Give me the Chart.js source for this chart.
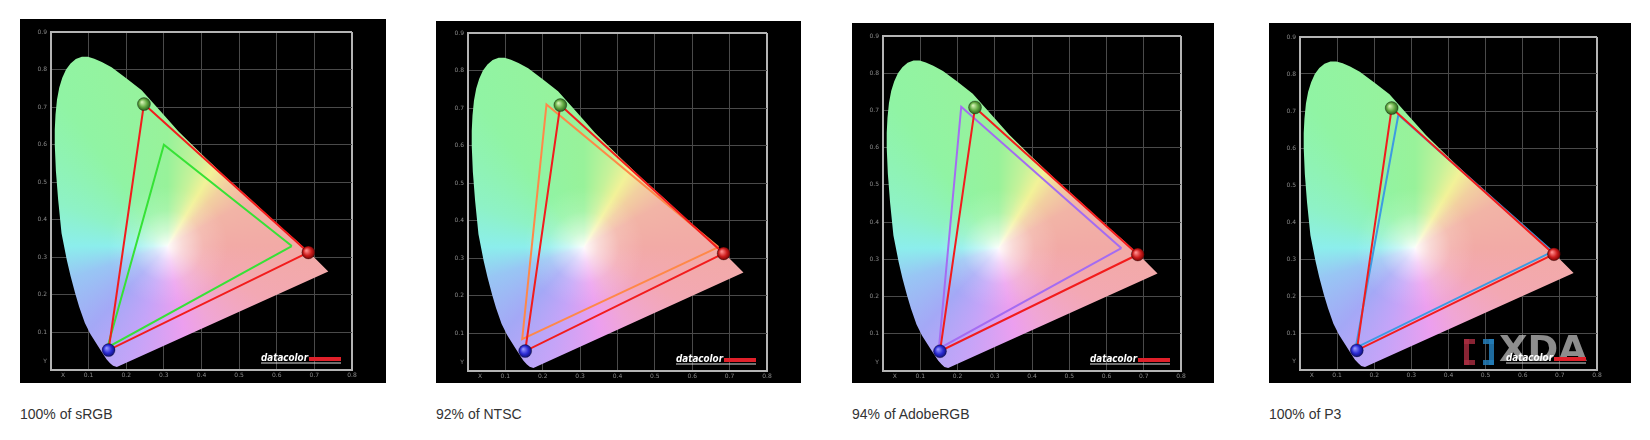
<!DOCTYPE html>
<html>
<head>
<meta charset="utf-8">
<script src="https://cdn.jsdelivr.net/npm/chart.js@4.4.1/dist/chart.umd.min.js"></script>
<style>
  body { margin: 0; background: #fff; width: 1650px; height: 440px; overflow: hidden; }
  .panel { position: absolute; background: #000; }
  .caption { position: absolute; font-family: "Liberation Sans", Arial, sans-serif; font-size: 14px; color: #333; }
</style>
</head>
<body>
<script>
// tick labels on the two axes ("X" / "Y" sit just off the origin)
const xTickValues = [0.032, 0.1, 0.2, 0.3, 0.4, 0.5, 0.6, 0.7, 0.8];
const xTickLabels = ["X", "0.1", "0.2", "0.3", "0.4", "0.5", "0.6", "0.7", "0.8"];
const yTickValues = [0.024, 0.1, 0.2, 0.3, 0.4, 0.5, 0.6, 0.7, 0.8, 0.9];
const yTickLabels = ["Y", "0.1", "0.2", "0.3", "0.4", "0.5", "0.6", "0.7", "0.8", "0.9"];

// spectral locus outline as drawn in the reference (closed by the purple line)
const locusX = [0.175, 0.165, 0.157, 0.148, 0.140, 0.126, 0.105, 0.090, 0.075, 0.064, 0.052, 0.042, 0.028, 0.019, 0.013, 0.010, 0.010, 0.012, 0.016, 0.022, 0.030, 0.040, 0.052, 0.066, 0.082, 0.098, 0.115, 0.135, 0.161, 0.200, 0.241, 0.290, 0.339, 0.400, 0.463, 0.530, 0.600, 0.650, 0.689, 0.737, 0.175];
const locusY = [0.008, 0.011, 0.018, 0.028, 0.040, 0.062, 0.095, 0.125, 0.168, 0.205, 0.250, 0.293, 0.364, 0.453, 0.530, 0.600, 0.640, 0.680, 0.720, 0.752, 0.778, 0.800, 0.816, 0.828, 0.834, 0.834, 0.829, 0.820, 0.806, 0.777, 0.745, 0.690, 0.635, 0.575, 0.515, 0.455, 0.390, 0.347, 0.310, 0.262, 0.008];
const whitePoint = [0.31, 0.33];

// measured display primaries (R, G, B)
const measuredX = [0.684, 0.247, 0.153];
const measuredY = [0.313, 0.708, 0.053];

// reference gamuts (R, G, B)
const srgbX = [0.64, 0.30, 0.15];
const srgbY = [0.33, 0.60, 0.06];
const ntscX = [0.67, 0.21, 0.145];
const ntscY = [0.33, 0.71, 0.085];
const adobeX = [0.64, 0.21, 0.15];
const adobeY = [0.33, 0.71, 0.06];
const p3X = [0.68, 0.265, 0.15];
const p3Y = [0.32, 0.69, 0.06];

const captions = ["100% of sRGB", "92% of NTSC", "94% of AdobeRGB", "100% of P3"];

const panels = [
  { box: [20, 19, 366, 364], inset: [31, 13, 34, 13], refX: srgbX, refY: srgbY, refColor: "#36e236" },
  { box: [436, 21, 365, 362], inset: [32, 12, 34, 12], refX: ntscX, refY: ntscY, refColor: "#ff8848" },
  { box: [852, 23, 362, 360], inset: [31, 13, 33, 12], refX: adobeX, refY: adobeY, refColor: "#a46cf2" },
  { box: [1269, 23, 362, 360], inset: [31, 14, 34, 13], refX: p3X, refY: p3Y, refColor: "#3d9be2", xda: true },
];

const gridColor = "#4a4a4a";
const frameColor = "#b4b4b4";
const red = "#f21c1c";

const hueStops = [
  [0.00, "#f2aaa6"], [0.08, "#f3a8b4"], [0.17, "#f0a6d6"], [0.22, "#ec9fef"],
  [0.30, "#c4a4f8"], [0.37, "#a4a8f6"], [0.45, "#98c6f4"], [0.50, "#8ceeec"],
  [0.56, "#8ef2c6"], [0.65, "#90f4a4"], [0.75, "#98f29a"], [0.80, "#c6f29a"],
  [0.835, "#f2f298"], [0.87, "#f2d0a0"], [0.92, "#f2b4a6"], [1.00, "#f2aaa6"],
];

const pts = (xs, ys) => xs.map((x, i) => ({ x: x, y: ys[i] }));
const closed = (xs, ys) => pts(xs, ys).concat([{ x: xs[0], y: ys[0] }]);

function locusFill(c) {
  const chart = c.chart;
  if (!chart.chartArea) return "rgba(0,0,0,0)";
  const cx = chart.scales.x.getPixelForValue(whitePoint[0]);
  const cy = chart.scales.y.getPixelForValue(whitePoint[1]);
  const g = chart.ctx.createConicGradient(0, cx, cy);
  hueStops.forEach(s => g.addColorStop(s[0], s[1]));
  return g;
}

function glowFill(c) {
  const chart = c.chart;
  if (!chart.chartArea) return "rgba(0,0,0,0)";
  const cx = chart.scales.x.getPixelForValue(whitePoint[0]);
  const cy = chart.scales.y.getPixelForValue(whitePoint[1]);
  const g = chart.ctx.createRadialGradient(cx, cy, 0, cx, cy, 60);
  g.addColorStop(0, "rgba(255,255,255,0.95)");
  g.addColorStop(0.25, "rgba(255,255,255,0.55)");
  g.addColorStop(0.6, "rgba(255,255,255,0.15)");
  g.addColorStop(1, "rgba(255,255,255,0)");
  return g;
}

const sphereTones = [
  ["#ff8a8a", "#cc1c1c", "#6a0000"],
  ["#d0f0b0", "#5ea83e", "#24501a"],
  ["#9090ff", "#2a2ad2", "#0c0c66"],
];

function sphereFill(c) {
  const chart = c.chart;
  if (c.type !== "data" || !chart.chartArea) return "rgba(0,0,0,0)";
  const x = chart.scales.x.getPixelForValue(c.raw.x);
  const y = chart.scales.y.getPixelForValue(c.raw.y);
  const t = sphereTones[c.dataIndex];
  const g = chart.ctx.createRadialGradient(x - 2, y - 2, 0.5, x, y, 7);
  g.addColorStop(0, t[0]);
  g.addColorStop(0.55, t[1]);
  g.addColorStop(1, t[2]);
  return g;
}

// datacolor badge and the XDA watermark
const badges = {
  id: "badges",
  afterDraw(chart, args, opts) {
    const { ctx, chartArea: a } = chart;
    ctx.save();
    if (opts.xda) {
      const l = a.right - 133, t = a.bottom - 31, h = 26;
      ctx.fillStyle = "rgba(170,45,65,0.8)";
      ctx.fillRect(l, t, 5, h);
      ctx.fillRect(l, t, 11, 5);
      ctx.fillRect(l, t + h - 5, 11, 5);
      ctx.fillStyle = "rgba(35,125,185,0.85)";
      ctx.fillRect(l + 25, t, 5, h);
      ctx.fillRect(l + 19, t, 11, 5);
      ctx.fillRect(l + 19, t + h - 5, 11, 5);
      ctx.fillStyle = "rgba(195,195,195,0.72)";
      ctx.font = "bold 35px 'DejaVu Sans', sans-serif";
      ctx.textBaseline = "top";
      ctx.save();
      ctx.translate(l + 35, t - 5);
      const w = ctx.measureText("XDA").width;
      ctx.scale(88 / w, 1);
      ctx.fillText("XDA", 0, 0);
      ctx.restore();
    }
    ctx.fillStyle = "#fff";
    ctx.font = "italic bold 10px 'DejaVu Sans', sans-serif";
    ctx.textBaseline = "alphabetic";
    ctx.fillText("datacolor", a.right - 91, a.bottom - 9, 47);
    ctx.fillStyle = "#e0202a";
    ctx.fillRect(a.right - 43, a.bottom - 13, 32, 4);
    ctx.fillStyle = "#ddd";
    ctx.fillRect(a.right - 91, a.bottom - 7.5, 80, 1);
    ctx.restore();
  },
};

function axis(min, max, values, labels, isY, inset) {
  return {
    type: "linear",
    min: min,
    max: max,
    afterBuildTicks: s => { s.ticks = values.map(v => ({ value: v })); },
    afterFit: s => { if (isY) s.width = inset; else s.height = inset; },
    ticks: {
      autoSkip: false,
      maxRotation: 0,
      padding: isY ? 4 : 2,
      color: "#8a8a8a",
      font: { family: "'DejaVu Sans', sans-serif", size: 6 },
      callback: (v, i) => labels[i],
    },
    grid: {
      drawTicks: false,
      color: c => c.index === 0 ? "rgba(0,0,0,0)" : (c.tick && c.tick.value === max ? frameColor : gridColor),
      lineWidth: c => (c.tick && c.tick.value === max) ? 2 : 1,
    },
    border: { display: true, color: frameColor, width: 2 },
  };
}

panels.forEach((p, k) => {
  const div = document.createElement("div");
  div.className = "panel";
  div.style.left = p.box[0] + "px";
  div.style.top = p.box[1] + "px";
  div.style.width = p.box[2] + "px";
  div.style.height = p.box[3] + "px";
  const canvas = document.createElement("canvas");
  canvas.width = p.box[2];
  canvas.height = p.box[3];
  div.appendChild(canvas);
  document.body.appendChild(div);

  const cap = document.createElement("div");
  cap.className = "caption";
  cap.style.left = p.box[0] + "px";
  cap.style.top = "406px";
  cap.textContent = captions[k];
  document.body.appendChild(cap);

  new Chart(canvas, {
    type: "scatter",
    data: {
      datasets: [
        { data: pts(measuredX, measuredY), showLine: false, pointRadius: 6.5, pointHoverRadius: 6.5,
          pointBackgroundColor: sphereFill, pointBorderColor: "rgba(0,0,0,0.35)", pointBorderWidth: 0.8, order: 0 },
        { data: closed(measuredX, measuredY), showLine: true, borderColor: red, borderWidth: 2,
          pointRadius: 0, fill: false, order: 1 },
        { data: closed(p.refX, p.refY), showLine: true, borderColor: p.refColor, borderWidth: 2,
          pointRadius: 0, fill: false, order: 2 },
        { data: pts(locusX, locusY), showLine: true, borderWidth: 0, borderColor: "rgba(0,0,0,0)",
          backgroundColor: glowFill, pointRadius: 0, fill: "shape", order: 3 },
        { data: pts(locusX, locusY), showLine: true, borderWidth: 0, borderColor: "rgba(0,0,0,0)",
          backgroundColor: locusFill, pointRadius: 0, fill: "shape", order: 4 },
      ],
    },
    options: {
      responsive: false,
      maintainAspectRatio: false,
      animation: false,
      devicePixelRatio: 1,
      layout: { padding: { left: 0, top: p.inset[1], right: p.inset[2], bottom: 0 } },
      plugins: { legend: { display: false }, tooltip: { enabled: false }, badges: { xda: !!p.xda } },
      scales: {
        x: axis(0, 0.8, xTickValues, xTickLabels, false, p.inset[3]),
        y: axis(0, 0.9, yTickValues, yTickLabels, true, p.inset[0]),
      },
    },
    plugins: [badges],
  });
});
</script>
</body>
</html>
